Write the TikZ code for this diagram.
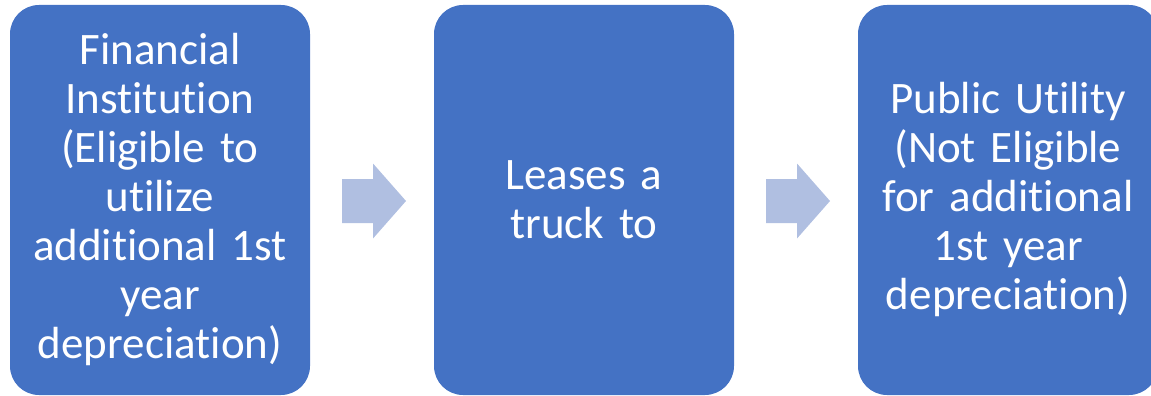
\documentclass[tikz,border=0pt]{standalone}
\usepackage{fontspec}
\setmainfont{Carlito}[Ligatures=NoCommon,RawFeature=-liga]
\usetikzlibrary{calc}
\definecolor{boxblue}{HTML}{4472C4}
\definecolor{arrowblue}{HTML}{B0BFE1}
\newcommand{\boxfont}{\fontsize{45}{49}\selectfont\fontdimen2\font=10pt\fontdimen3\font=0pt\fontdimen4\font=0pt}
\begin{document}
\begin{tikzpicture}[x=1pt,y=-1pt,
  stepbox/.style={shape=rectangle, fill=boxblue, draw=none, rounded corners=29pt,
    minimum width=300pt, minimum height=390pt, inner sep=0pt,
    text=white, text width=296pt, align=center,
    font=\boxfont},
  blockarrow/.style={fill=arrowblue, draw=none}]
\useasboundingbox (0,0) rectangle (1151,396);
\clip (0,0) rectangle (1151,396);
\node[stepbox] (b1) at (160,200) {Financial\\Institution\\(Eligible to\\utilize\\additional 1st\\year\\depreciation)};
\node[stepbox] (b2) at (584,200) {Leases a\\truck to};
\node[stepbox] (b3) at (1008,200) {Public Utility\\(Not Eligible\\for additional\\1st year\\depreciation)};
\coordinate (m1) at ($(b1.east)!0.5!(b2.west)+(2,1)$);
\coordinate (m2) at ($(b2.east)!0.5!(b3.west)+(2,1)$);
\foreach \m in {m1,m2}{
  \fill[blockarrow] ($(\m)+(-32,-22)$) -- ($(\m)+(-1,-22)$) -- ($(\m)+(-1,-37.5)$)
    -- ($(\m)+(32,0)$) -- ($(\m)+(-1,37.5)$) -- ($(\m)+(-1,22)$) -- ($(\m)+(-32,22)$) -- cycle;
}
\end{tikzpicture}
\end{document}
